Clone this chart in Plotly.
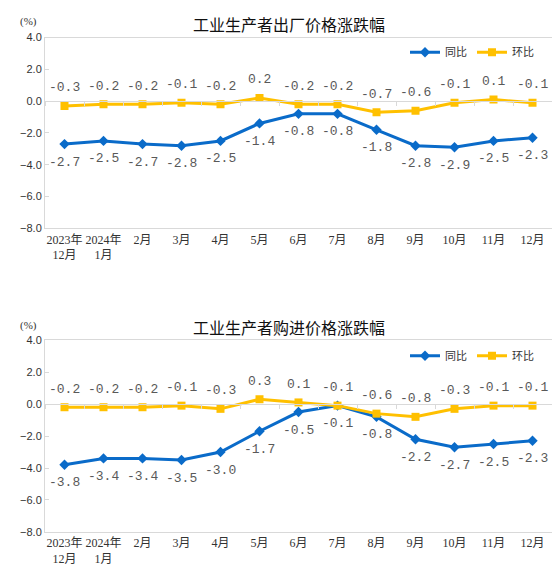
import plotly.graph_objects as go
from plotly.subplots import make_subplots

# Categories (months)
months = ["2023年<br>12月", "2024年<br>1月", "2月", "3月", "4月", "5月", "6月",
          "7月", "8月", "9月", "10月", "11月", "12月"]

# PPI (出厂价格)
out_yoy = [-2.7, -2.5, -2.7, -2.8, -2.5, -1.4, -0.8, -0.8, -1.8, -2.8, -2.9, -2.5, -2.3]
out_mom = [-0.3, -0.2, -0.2, -0.1, -0.2, 0.2, -0.2, -0.2, -0.7, -0.6, -0.1, 0.1, -0.1]

# PPIRM (购进价格)
in_yoy = [-3.8, -3.4, -3.4, -3.5, -3.0, -1.7, -0.5, -0.1, -0.8, -2.2, -2.7, -2.5, -2.3]
in_mom = [-0.2, -0.2, -0.2, -0.1, -0.3, 0.3, 0.1, -0.1, -0.6, -0.8, -0.3, -0.1, -0.1]

titles = ["工业生产者出厂价格涨跌幅", "工业生产者购进价格涨跌幅"]

BLUE = "#0A6BC9"
GOLD = "#FFC000"
W, H = 560, 576
OFF = 8  # page body margin

# pixel (as seen on page) -> paper helpers
def px_x(p):
    return (p - OFF) / W

def px_y(p):
    return 1 - (p - OFF) / H

y_min, y_max = -8, 4
x_range = [-0.5, len(months) - 0.5]
top_dom = [px_y(227), px_y(32)]
bot_dom = [px_y(537), px_y(341)]
x_dom = [px_x(45), px_x(552)]

fig = make_subplots(rows=2, cols=1)

label_font = dict(family="Liberation Mono, DejaVu Sans Mono", size=13, color="#595959")
annotations = []

for row, (yoy, mom) in enumerate([(out_yoy, out_mom), (in_yoy, in_mom)], start=1):
    leg = "legend" if row == 1 else "legend2"
    xr, yr = ("x", "y") if row == 1 else ("x2", "y2")
    fig.add_trace(go.Scatter(
        x=months, y=yoy, name="同比", mode="lines+markers",
        line=dict(color=BLUE, width=3),
        marker=dict(symbol="diamond", size=8, color=BLUE),
        legend=leg,
    ), row=row, col=1)
    fig.add_trace(go.Scatter(
        x=months, y=mom, name="环比", mode="lines+markers",
        line=dict(color=GOLD, width=3),
        marker=dict(symbol="square", size=8, color=GOLD),
        legend=leg,
    ), row=row, col=1)
    # data labels: 同比 below, 环比 above
    for m, v in zip(months, yoy):
        annotations.append(dict(x=m, y=v, xref=xr, yref=yr, text=f"{v:.1f}",
                                showarrow=False, yshift=-18, font=label_font))
    for m, v in zip(months, mom):
        annotations.append(dict(x=m, y=v, xref=xr, yref=yr, text=f"{v:.1f}",
                                showarrow=False, yshift=18, font=label_font))

axis_line = "#D9D9D9"
tick_font = dict(family="Liberation Serif, Noto Sans CJK SC", size=12, color="#333333")

for row, dom in [(1, top_dom), (2, bot_dom)]:
    fig.update_xaxes(row=row, col=1, domain=x_dom, type="category", range=x_range,
                     showgrid=False, showline=True, linecolor=axis_line, linewidth=1,
                     mirror=True, ticks="", tickfont=tick_font, tickangle=0)
    fig.update_yaxes(row=row, col=1, domain=dom, range=[y_min, y_max], dtick=2,
                     tickformat=".1f", showgrid=False, zeroline=False,
                     showline=True, linecolor=axis_line, linewidth=1, mirror=True,
                     ticks="inside", ticklen=4, tickcolor=axis_line,
                     tickfont=dict(family="Liberation Sans", size=11, color="#333333"))

# zero-level category axes with boundary ticks
for name, anchor_dom, over in [("xaxis3", top_dom, "x"), ("xaxis4", bot_dom, "x2")]:
    pos = anchor_dom[0] + (0 - y_min) / (y_max - y_min) * (anchor_dom[1] - anchor_dom[0])
    fig.update_layout({name: dict(
        overlaying=over, anchor="free", position=pos, domain=x_dom,
        type="category", categoryarray=months, categoryorder="array",
        range=x_range,
        showline=True, linecolor=axis_line, linewidth=1,
        ticks="outside", ticklen=4, tickcolor=axis_line, tickson="boundaries",
        showticklabels=False, showgrid=False, zeroline=False, side="bottom",
    )})

# invisible traces so overlay axes get drawn
fig.add_trace(go.Scatter(x=months, y=[None] * len(months), xaxis="x3", yaxis="y",
                         showlegend=False, hoverinfo="skip"))
fig.add_trace(go.Scatter(x=months, y=[None] * len(months), xaxis="x4", yaxis="y2",
                         showlegend=False, hoverinfo="skip"))

legend_style = dict(orientation="h", xanchor="left", yanchor="middle",
                    bgcolor="rgba(0,0,0,0)",
                    font=dict(family="Noto Sans CJK SC", size=11, color="#333333"),
                    itemwidth=30)
fig.update_layout(
    legend=dict(x=px_x(405), y=px_y(47), **legend_style),
    legend2=dict(x=px_x(405), y=px_y(357), **legend_style),
)

for title, ty, uy in [(titles[0], 18, 16), (titles[1], 328, 326)]:
    annotations.append(dict(text=title, x=px_x(289), y=px_y(ty), xref="paper", yref="paper",
                            showarrow=False, xanchor="center", yanchor="middle",
                            font=dict(family="Noto Sans CJK SC", size=16, color="#111111")))
    annotations.append(dict(text="(%)", x=px_x(28), y=px_y(uy), xref="paper", yref="paper",
                            showarrow=False, xanchor="center", yanchor="middle",
                            font=dict(family="Liberation Serif", size=11, color="#333333")))

fig.update_layout(
    width=W, height=H,
    margin=dict(l=0, r=0, t=0, b=0),
    paper_bgcolor="white", plot_bgcolor="white",
    annotations=annotations,
)

fig.write_html("out.html")
